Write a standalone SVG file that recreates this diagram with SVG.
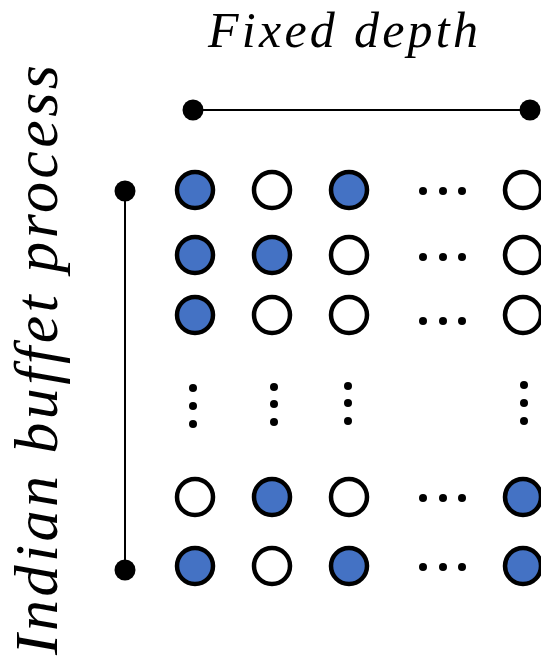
<svg xmlns="http://www.w3.org/2000/svg" width="541" height="660" viewBox="0 0 541 660">
<style>
.lbl{font-family:"Liberation Serif","Times New Roman",serif;font-style:italic;fill:#000}
.on{fill:#4472C4;stroke:#000;stroke-width:4.5}
.off{fill:#fff;stroke:#000;stroke-width:4.5}
.dot{fill:#000}
.conn{stroke:#000;stroke-width:2;fill:none}
</style>
<defs>
<marker id="endDot" viewBox="-11 -11 22 22" markerWidth="22" markerHeight="22" markerUnits="userSpaceOnUse" refX="0" refY="0" orient="auto">
<circle cx="0" cy="0" r="10.5" fill="#000"/>
</marker>
</defs>
<rect width="541" height="660" fill="#fff"/>
<text class="lbl" x="208" y="47" font-size="50" textLength="270" lengthAdjust="spacing">Fixed depth</text>
<text class="lbl" transform="translate(57,655) rotate(-90)" font-size="62" textLength="590" lengthAdjust="spacing">Indian buffet process</text>
<g id="connectors">
<line class="conn" x1="193" y1="110" x2="530" y2="110" marker-start="url(#endDot)" marker-end="url(#endDot)"/>
<line class="conn" x1="125" y1="191" x2="125" y2="570" marker-start="url(#endDot)" marker-end="url(#endDot)"/>
</g>
<g id="row1">
<g id="n1_1"><circle class="on" cx="195" cy="190" r="18"/></g>
<g id="n1_2"><circle class="off" cx="272" cy="190" r="18"/></g>
<g id="n1_3"><circle class="on" cx="349" cy="190" r="18"/></g>
<g id="n1_dots"><circle class="dot" cx="423" cy="191" r="4"/><circle class="dot" cx="443" cy="191" r="4"/><circle class="dot" cx="462" cy="191" r="4"/></g>
<g id="n1_n"><circle class="off" cx="523" cy="190" r="18"/></g>
</g>
<g id="row2">
<g id="n2_1"><circle class="on" cx="195" cy="255" r="18"/></g>
<g id="n2_2"><circle class="on" cx="272" cy="255" r="18"/></g>
<g id="n2_3"><circle class="off" cx="349" cy="255" r="18"/></g>
<g id="n2_dots"><circle class="dot" cx="423" cy="257" r="4"/><circle class="dot" cx="443" cy="257" r="4"/><circle class="dot" cx="462" cy="257" r="4"/></g>
<g id="n2_n"><circle class="off" cx="523" cy="255" r="18"/></g>
</g>
<g id="row3">
<g id="n3_1"><circle class="on" cx="195" cy="315" r="18"/></g>
<g id="n3_2"><circle class="off" cx="272" cy="315" r="18"/></g>
<g id="n3_3"><circle class="off" cx="349" cy="315" r="18"/></g>
<g id="n3_dots"><circle class="dot" cx="423" cy="321" r="4"/><circle class="dot" cx="443" cy="321" r="4"/><circle class="dot" cx="462" cy="321" r="4"/></g>
<g id="n3_n"><circle class="off" cx="523" cy="315" r="18"/></g>
</g>
<g id="vdots">
<g id="v1"><circle class="dot" cx="193" cy="388" r="4"/><circle class="dot" cx="193" cy="406" r="4"/><circle class="dot" cx="193" cy="424" r="4"/></g>
<g id="v2"><circle class="dot" cx="274" cy="387" r="4"/><circle class="dot" cx="274" cy="404" r="4"/><circle class="dot" cx="274" cy="422" r="4"/></g>
<g id="v3"><circle class="dot" cx="348" cy="386" r="4"/><circle class="dot" cx="348" cy="403" r="4"/><circle class="dot" cx="348" cy="421" r="4"/></g>
<g id="vn"><circle class="dot" cx="524" cy="385" r="4"/><circle class="dot" cx="524" cy="403" r="4"/><circle class="dot" cx="524" cy="421" r="4"/></g>
</g>
<g id="row5">
<g id="n5_1"><circle class="off" cx="195" cy="497" r="18"/></g>
<g id="n5_2"><circle class="on" cx="272" cy="497" r="18"/></g>
<g id="n5_3"><circle class="off" cx="349" cy="497" r="18"/></g>
<g id="n5_dots"><circle class="dot" cx="423" cy="498" r="4"/><circle class="dot" cx="443" cy="498" r="4"/><circle class="dot" cx="462" cy="498" r="4"/></g>
<g id="n5_n"><circle class="on" cx="523" cy="497" r="18"/></g>
</g>
<g id="row6">
<g id="n6_1"><circle class="on" cx="195" cy="566" r="18"/></g>
<g id="n6_2"><circle class="off" cx="272" cy="566" r="18"/></g>
<g id="n6_3"><circle class="on" cx="349" cy="566" r="18"/></g>
<g id="n6_dots"><circle class="dot" cx="423" cy="567" r="4"/><circle class="dot" cx="443" cy="567" r="4"/><circle class="dot" cx="462" cy="567" r="4"/></g>
<g id="n6_n"><circle class="on" cx="523" cy="566" r="18"/></g>
</g>
</svg>
